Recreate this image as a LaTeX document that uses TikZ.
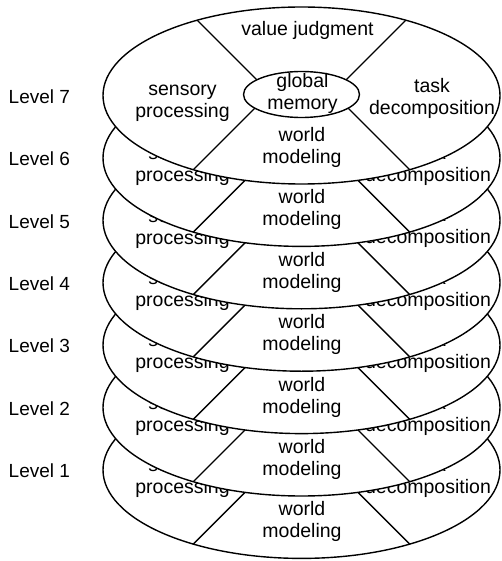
\documentclass[tikz,border=0pt]{standalone}
\usepackage{fontspec}
\setmainfont{Liberation Sans}
\begin{document}
\begin{tikzpicture}[x=1pt,y=-1pt,line width=1.4pt,
  disc/.style={draw=black,fill=white},
  inner/.style={draw=black,fill=white},
  lbl/.style={font=\fontsize{19.5}{22}\selectfont,align=center,inner sep=0pt},
  lvl/.style={font=\fontsize{19}{22}\selectfont,anchor=west,inner sep=0pt}]
\useasboundingbox (0,0) rectangle (502,561);
\foreach \k in {1,...,7}{
  \pgfmathsetmacro\cy{95.5+62.4*(7-\k)}
  \pgfmathsetmacro\spdy{\k<7 ? 1.5 : 0}
  \pgfmathsetmacro\tddy{\k<7 ? 5 : 0}
  \pgfmathsetmacro\tddx{\k<7 ? -4 : 0}
  \node[lvl] (L\k) at (8,\cy+1) {Level \k};
  \begin{scope}[shift={(301.5,\cy)}]
    \draw[disc] (0,0) ellipse [x radius=198.5, y radius=88.5];
    \coordinate (ul\k) at (-104,-75);
    \coordinate (ur\k) at (104,-75);
    \coordinate (ll\k) at (-108,74);
    \coordinate (lr\k) at (108,74);
    \coordinate (iul\k) at (-38,-9);
    \coordinate (iur\k) at (38,-9);
    \coordinate (ill\k) at (-40,6);
    \coordinate (ilr\k) at (40,6);
    \draw (ul\k) -- (iul\k);
    \draw (ur\k) -- (iur\k);
    \draw (ll\k) -- (ill\k);
    \draw (lr\k) -- (ilr\k);
    \draw[inner] (0,-1) ellipse [x radius=58, y radius=23];
    \node[lbl] (vj\k) at (6,-65) {value judgment};
    \node[lbl] (sp\k) at (-119,8+\spdy) {sensory\\processing};
    \node[lbl] (gm\k) at (1,-2) {global\\memory};
    \node[lbl] (td\k) at (130.5+\tddx,2.5+\tddy) {task\\decomposition};
    \node[lbl] (wm\k) at (0.5,52) {world\\modeling};
  \end{scope}
}
\end{tikzpicture}
\end{document}
